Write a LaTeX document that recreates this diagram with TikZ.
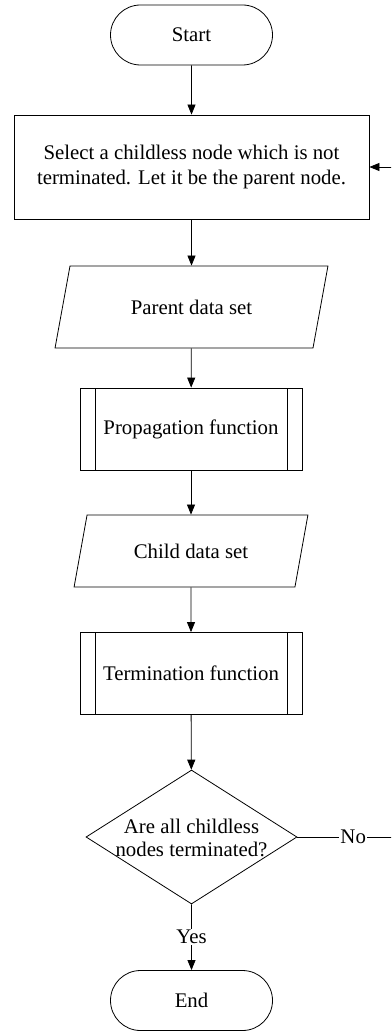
\documentclass[tikz,border=0pt]{standalone}
\usepackage{fontspec}
\setmainfont{Liberation Serif}
\usetikzlibrary{shapes.geometric,shapes.misc,arrows.meta}

\tikzset{
  every node/.style={font=\fontsize{20.8}{25.5}\selectfont, text=black},
  termbox/.style={rounded rectangle, draw, line width=0.8pt,
    minimum width=162pt, minimum height=60pt, inner sep=0pt},
  procbox/.style={rectangle, draw, line width=0.8pt, align=center,
    minimum width=355pt, minimum height=104pt, inner sep=0pt},
  iobox/.style={trapezium, trapezium stretches=true, draw, line width=0.8pt,
    inner sep=0pt},
  subbox/.style={rectangle, draw, line width=0.8pt, inner sep=0pt,
    minimum width=222pt, minimum height=82pt,
    path picture={
      \draw[line width=0.8pt]
        ([xshift=15pt]path picture bounding box.north west) --
        ([xshift=15pt]path picture bounding box.south west)
        ([xshift=-15pt]path picture bounding box.north east) --
        ([xshift=-15pt]path picture bounding box.south east);
    }},
  decbox/.style={diamond, draw, line width=0.8pt, inner sep=0pt,
    minimum width=211pt, minimum height=134pt},
  dectext/.style={align=center, inner sep=0pt,
    font=\fontsize{20.8}{23.5}\selectfont},
  lbl/.style={fill=white, inner sep=1pt},
  flow/.style={line width=0.8pt, -{Triangle[width=8pt,length=10pt]}},
}

\begin{document}
\begin{tikzpicture}[x=1pt, y=-1pt]
  \useasboundingbox (0,0) rectangle (391,1032);
  \clip (0,0) rectangle (391,1032);

  % flowchart steps
  \node[termbox] (start) at (191.5,35) {Start};
  \node[procbox] (sel) at (191.5,167)
    {Select a childless node which is not\\terminated. Let it be the parent node.};
  \node[iobox, trapezium left angle=63, trapezium right angle=117,
        minimum width=273pt, minimum height=82pt] (pds) at (191.5,307) {Parent data set};
  \node[subbox] (prop) at (191,429) {Propagation function};
  \node[iobox, trapezium left angle=64, trapezium right angle=116,
        minimum width=234pt, minimum height=72pt] (cds) at (191,551) {Child data set};
  \node[subbox] (term) at (191,673.5) {Termination function};
  \node[decbox] (dec) at (191.5,837) {};
  \node[dectext] (dectxt) at (191.5,838) {Are all childless\\nodes terminated?};
  \node[termbox] (end) at (191.5,1000.5) {End};

  % loop-back corner, off to the right
  \coordinate (loop) at (409,837);

  % connectors
  \draw[flow] (start) -- (sel);
  \draw[flow] (sel) -- (pds);
  \draw[flow] (pds) -- (prop);
  \draw[flow] (prop) -- (cds);
  \draw[flow] (cds) -- (term);
  \draw[flow] (term) -- (dec);
  \draw[flow] (dec) -- node[lbl] {Yes} (end);
  \draw[flow] (dec.east) -- node[lbl] {No} (loop) |- (sel.east);
\end{tikzpicture}
\end{document}
